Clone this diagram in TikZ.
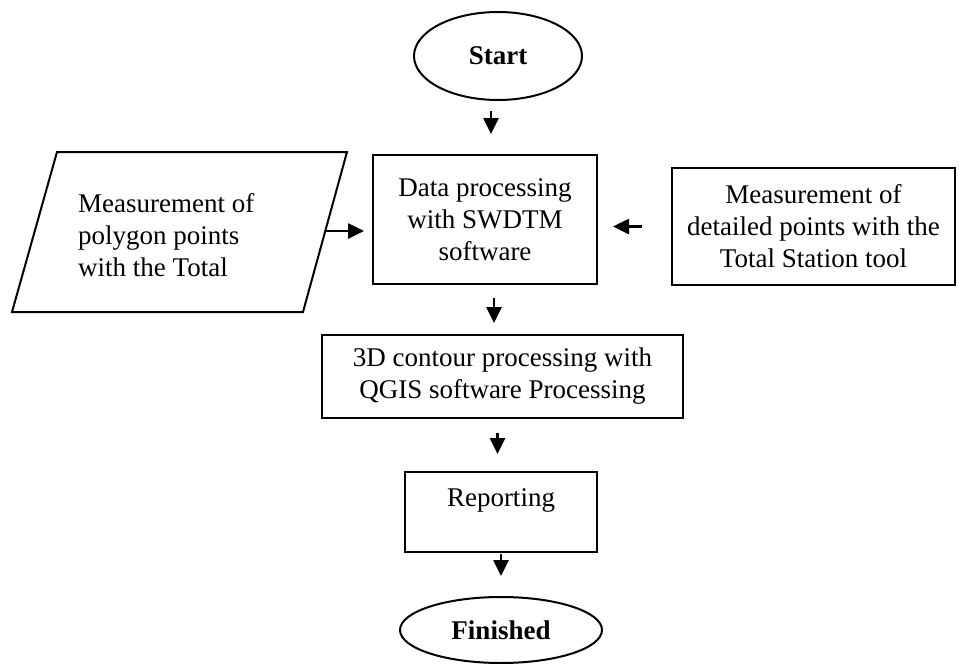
\documentclass[tikz,border=0pt]{standalone}
\usepackage{fontspec}
\setmainfont{Liberation Serif}
\usetikzlibrary{arrows.meta,shapes.geometric}
\begin{document}
\begin{tikzpicture}[x=1pt,y=-1pt,
  every node/.style={font=\fontsize{27}{32}\selectfont, inner sep=0pt},
  box/.style={draw, line width=2pt, rectangle, align=center},
  term/.style={draw, line width=2pt, ellipse, font=\fontsize{27}{32}\selectfont\bfseries},
  arr/.style={line width=2.6pt, -{Triangle[width=15pt,length=16pt]}}]
\useasboundingbox (0,0) rectangle (959,664);
\node[term, minimum width=168pt, minimum height=88pt] (start) at (498,56) {Start};
\node[box, minimum width=224pt, minimum height=129pt] (data) at (485,219.5) {Data processing\\with SWDTM\\software};
\node[box, minimum width=283pt, minimum height=117pt] (right) at (813.5,226.5) {Measurement of\\detailed points with the\\Total Station tool};
\draw[line width=2pt] (57,152) coordinate (pa) -- (347,152) coordinate (pb) -- (303,312) coordinate (pc) -- (12,312) coordinate (pd) -- cycle;
\node[anchor=west, align=left] (ptext) at (78,235) {Measurement of\\polygon points\\with the Total};
\coordinate (pr) at (326,231);
\node[box, minimum width=361pt, minimum height=83pt] (qgis) at (502.5,376.5) {3D contour processing with\\QGIS software Processing};
\node[box, minimum width=192pt, minimum height=80pt] (rep) at (501,512) {};
\node (reptext) at (501,500) {Reporting};
\node[term, minimum width=202pt, minimum height=66pt] (fin) at (501,630) {Finished};
\draw[arr, shorten <=10pt, shorten >=20pt] ([xshift=-7pt]start.south) -- ([xshift=-7pt]start.south |- data.north);
\draw[arr, shorten >=8pt] (pr) -- (data.west |- pr);
\draw[arr, shorten <=29pt, shorten >=15pt] (right.west) -- (data.east |- right.west);
\draw[arr, shorten <=13pt, shorten >=11pt] ([xshift=9pt]data.south) -- ([xshift=9pt]data.south |- qgis.north);
\draw[arr, shorten <=14pt, shorten >=17pt] ([xshift=-5pt]qgis.south) -- ([xshift=-5pt]qgis.south |- rep.north);
\draw[arr, shorten <=1pt, shorten >=20pt] (rep.south) -- (fin.north);
\end{tikzpicture}
\end{document}
